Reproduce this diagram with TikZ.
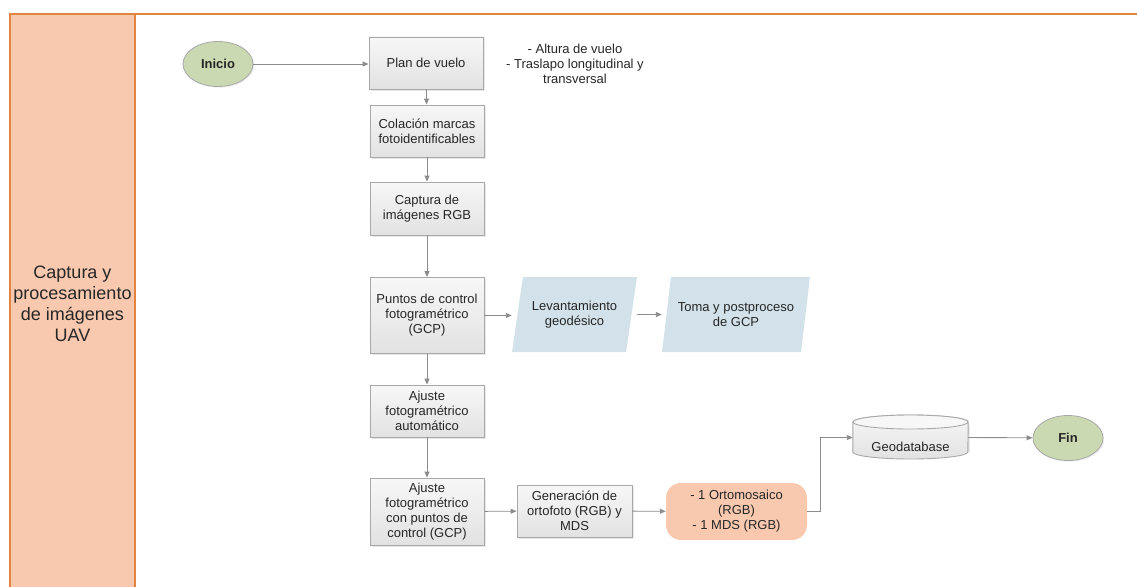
\documentclass[tikz,border=0pt]{standalone}
\usepackage{fontspec}
\setmainfont{Liberation Sans}
\usetikzlibrary{shapes.geometric,shadows,arrows.meta}
\definecolor{laneorange}{HTML}{E2843F}
\definecolor{lanefill}{HTML}{F9C9AF}
\definecolor{boxline}{HTML}{A8A8A8}
\definecolor{boxtop}{HTML}{F7F7F7}
\definecolor{boxbot}{HTML}{E2E2E2}
\definecolor{sage}{HTML}{CBD9B3}
\definecolor{paleblue}{HTML}{D3E2EA}
\definecolor{txt}{HTML}{262626}
\definecolor{arrowgray}{HTML}{8C8C8C}
\tikzset{
  every node/.style={font=\fontsize{13}{15}\selectfont, text=txt, align=center},
  procbox/.style={draw=boxline, line width=0.9pt, top color=boxtop, bottom color=boxbot,
    minimum width=114, minimum height=52, inner sep=2pt,
    drop shadow={opacity=0.18, shadow xshift=1.5pt, shadow yshift=-1.5pt}},
  term/.style={ellipse, draw=boxline, line width=0.8pt, fill=sage, minimum width=70, minimum height=45,
    font=\fontsize{13}{15}\selectfont\bfseries, inner sep=0pt,
    drop shadow={opacity=0.15, shadow xshift=1.2pt, shadow yshift=-1.2pt}},
  databox/.style={trapezium, trapezium left angle=71.6, trapezium right angle=108.4,
    trapezium stretches=true, fill=paleblue, minimum width=125, minimum height=75, inner sep=0pt},
  outbox/.style={rounded corners=15, fill=lanefill, minimum width=141, minimum height=57, inner sep=2pt},
  conn/.style={draw=arrowgray, line width=0.9pt, -{Triangle[length=6pt, width=5pt]}},
}
\begin{document}
\begin{tikzpicture}[x=1pt, y=-1pt]
\useasboundingbox (0,0) rectangle (1137,586);
% swimlane
\fill[lanefill] (10,14) rectangle (135,590);
\draw[laneorange, line width=2.6pt] (10,590) -- (10,14) -- (1140,14);
\draw[laneorange, line width=2.6pt] (135,14) -- (135,590);
\node[font=\fontsize{18}{21}\selectfont] (lane) at (72.5,304) {Captura y\\procesamiento\\de imágenes\\UAV};

% nodes
\node[term] (ini) at (218,64) {Inicio};
\node[procbox] (plan) at (426,63) {Plan de vuelo};
\node (note) at (575,64) {- Altura de vuelo\\- Traslapo longitudinal y\\transversal};
\node[procbox] (col) at (427,131) {Colación marcas\\fotoidentificables};
\node[procbox, minimum height=53] (cap) at (427,208.5) {Captura de\\imágenes RGB};
\node[procbox, minimum height=76] (gcp) at (427,315.5) {Puntos de control\\fotogramétrico\\(GCP)};
\node[databox] (lev) at (574.5,314.5) {Levantamiento\\geodésico};
\node[databox, minimum width=148] (toma) at (736,314.5) {Toma y postproceso\\de GCP};
\node[procbox] (aj1) at (427,411) {Ajuste\\fotogramétrico\\automático};
\node[procbox, minimum height=67] (aj2) at (427,511.5) {Ajuste\\fotogramétrico\\con puntos de\\control (GCP)};
\node[procbox, minimum width=115] (gen) at (574.5,511) {Generación de\\ortofoto (RGB) y\\MDS};
\node[outbox] (out) at (736.5,511.5) {- 1 Ortomosaico\\(RGB)\\- 1 MDS (RGB)};

% geodatabase cylinder
\node[minimum width=115, minimum height=45, inner sep=0pt] (geo) at (910.5,437.5) {};
\fill[black, opacity=0.12] (854.5,425) -- (854.5,453) arc[start angle=180, end angle=360, x radius=57.5, y radius=7] -- (969.5,425) -- cycle;
\path[draw=boxline, line width=0.9pt, top color=boxtop, bottom color=boxbot]
  (geo.west |- 0,422) -- (geo.west |- 0,452) arc[start angle=180, end angle=360, x radius=57.5, y radius=-7] -- (geo.east |- 0,422) arc[start angle=0, end angle=180, x radius=57.5, y radius=-7] -- cycle;
\draw[boxline, line width=0.9pt, fill=boxtop] (910.5,422) ellipse[x radius=57.5, y radius=7];
\node (geolabel) at (910.5,447) {Geodatabase};
\node[term] (fin) at (1068,438) {Fin};

% connectors
\draw[conn] (ini.east) -- (ini.east -| plan.west);
\draw[conn] (plan) -- (col);
\draw[conn] (col) -- (cap);
\draw[conn] (cap) -- (gcp);
\draw[conn] (gcp) -- (aj1);
\draw[conn] (aj1) -- (aj2);
\draw[conn] (gcp.east) -- (gcp.east -| lev.bottom left corner);
\draw[conn] (lev.top right corner |- lev.center) -- (toma.bottom left corner |- toma.center);
\draw[conn] (aj2) -- (gen);
\draw[conn] (gen) -- (out);
\draw[conn] (out.east) -- ++(13,0) |- (geo.west);
\draw[conn] (geo.east) -- (fin);
\end{tikzpicture}
\end{document}
